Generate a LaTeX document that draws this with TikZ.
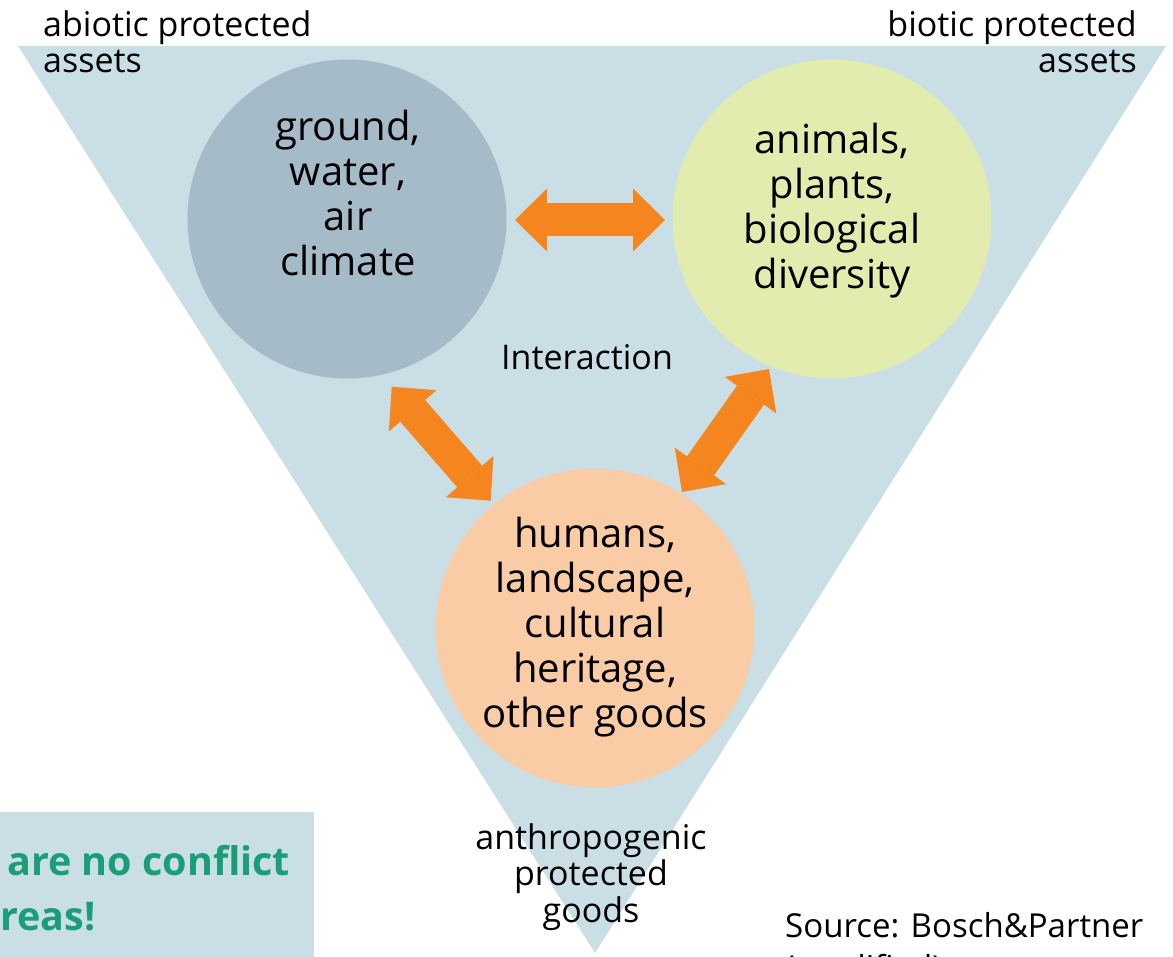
\documentclass[tikz,border=0pt]{standalone}
\usepackage{fontspec}
\setmainfont{Open Sans}
\usetikzlibrary{arrows.meta}
\definecolor{tri}{HTML}{CADEE6}
\definecolor{abio}{HTML}{A6BBC8}
\definecolor{bio}{HTML}{E2ECAE}
\definecolor{anthro}{HTML}{FACCA5}
\definecolor{arrowc}{HTML}{F5851F}
\definecolor{greentxt}{HTML}{1A9E78}
\begin{document}
\begin{tikzpicture}[x=1pt,y=-1pt,
  bubble/.style={circle, minimum size=319pt, inner sep=0pt},
  bigtext/.style={font=\fontsize{40}{45}\selectfont, align=center, inner sep=0pt},
  smalltext/.style={font=\fontsize{34}{36.5}\selectfont, inner sep=0pt},
  greenbold/.style={font=\fontsize{39.5}{55}\selectfont\bfseries, text=greentxt, inner sep=0pt, anchor=base west},
  twoway/.style={draw=arrowc, line width=33pt, {Triangle[width=63pt,length=32pt,line width=0pt]}-{Triangle[width=63pt,length=32pt,line width=0pt]}}
]
\useasboundingbox (0,0) rectangle (1173,957);
% triangle
\fill[tri] (18,46) -- (1166,46) -- (595,953) -- cycle;
% note box
\fill[tri] (0,812) rectangle (314,970);
\node[greenbold] (n1) at (7,875) {are no conflict};
\node[greenbold] (n2) at (0,930) {reas!};
% circles
\node[bubble, fill=abio] (L) at (347,219) {};
\node[bubble, fill=bio] (R) at (832,219) {};
\node[bubble, fill=anthro] (B) at (595,628) {};
\node[bigtext] (Lt) at (348,193) {ground,\\water,\\air\\climate};
\node[bigtext] (Rt) at (832,211) {animals,\\plants,\\biological\\diversity};
\node[bigtext] (Bt) at (595,627) {humans,\\landscape,\\cultural\\heritage,\\other goods};
% labels
\node[smalltext, align=left, anchor=north west] (abl) at (43,10) {abiotic protected\\assets};
\node[smalltext, align=right, anchor=north east] (bil) at (1137,10) {biotic protected\\assets};
\node[smalltext] (inter) at (587,357) {Interaction};
\node[smalltext, align=center] (anl) at (591,877) {anthropogenic\\protected\\goods};
\node[font=\fontsize{33}{42}\selectfont, inner sep=0pt, align=left, anchor=base west] (src) at (785,979) {Source: Bosch\&Partner\\(modified)};
% arrows
\coordinate (h1) at (515,220);
\coordinate (h2) at (665,220);
\coordinate (d1) at (391.7,386.7);
\coordinate (d2) at (490.7,500.7);
\coordinate (e1) at (769,369);
\coordinate (e2) at (682,492);
\draw[twoway] (h1) -- (h2);
\draw[twoway] (d1) -- (d2);
\draw[twoway] (e1) -- (e2);
\end{tikzpicture}
\end{document}
